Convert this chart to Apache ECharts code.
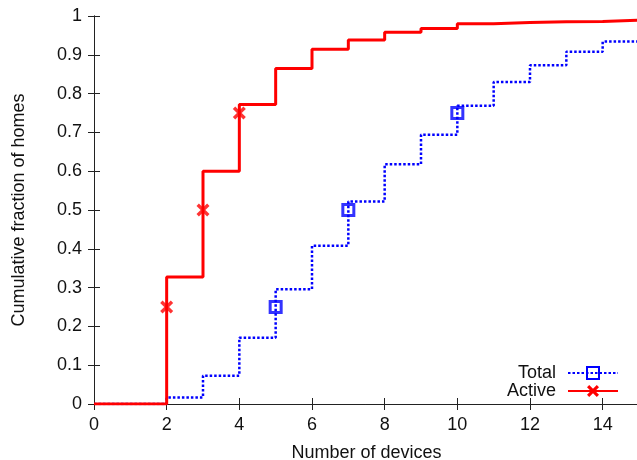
<!DOCTYPE html>
<html>
<head>
<meta charset="utf-8">
<script src="https://cdn.jsdelivr.net/npm/echarts@6/dist/echarts.min.js"></script>
<style>
    html, body { margin: 0; padding: 0; background: #fff; }
    #chart { width: 637px; height: 460px; }
</style>
</head>
<body>
<div id="chart"></div>
<script>
// number of devices (step positions)
var devices = [0, 1, 2, 3, 4, 5, 6, 7, 8, 9, 10, 11, 12, 13, 14, 15];
// cumulative fraction of homes
var totalCdf = [0, 0, 0.017, 0.073, 0.171, 0.296, 0.408, 0.522, 0.618, 0.694, 0.769, 0.830, 0.873, 0.908, 0.934, 0.934];
var activeCdf = [0, 0, 0.327, 0.600, 0.772, 0.865, 0.914, 0.938, 0.958, 0.968, 0.980, 0.983, 0.985, 0.986, 0.989, 0.989];
// quantile markers
var quantiles = [0.25, 0.5, 0.75];
var totalQx = [5, 7, 10];
var activeQx = [2, 3, 4];

var fontFamily = '"Liberation Sans", Arial, sans-serif';
// gnuplot style "x" point
var crossPath = 'path://M0,2.2L2.2,0L6,3.8L9.8,0L12,2.2L8.2,6L12,9.8L9.8,12L6,8.2L2.2,12L0,9.8L3.8,6Z';

function pairs(xs, ys) {
    var out = [];
    for (var i = 0; i < xs.length; i++) {
        out.push([xs[i], ys[i]]);
    }
    return out;
}

var axisLine = {show: true, lineStyle: {color: '#222', width: 1}};
var innerTick = {show: true, inside: true, length: 6, lineStyle: {color: '#222'}};

var chart = echarts.init(document.getElementById('chart'));
chart.setOption({
    animation: false,
    backgroundColor: '#fff',
    grid: {left: 94, right: -2, top: 16, bottom: 56, outerBoundsMode: 'none', containLabel: false},
    legend: {
        orient: 'vertical',
        right: 13,
        top: 359,
        align: 'right',
        itemWidth: 50,
        itemHeight: 15,
        itemGap: 0,
        data: ['Total', 'Active'],
        textStyle: {
            fontFamily: fontFamily,
            fontSize: 18,
            lineHeight: 18,
            color: '#111',
            width: 66,
            align: 'right',
            padding: [0, 7, 0, 0]
        }
    },
    xAxis: [
        {
            type: 'value',
            min: 0,
            max: 15,
            interval: 2,
            name: 'Number of devices',
            nameLocation: 'middle',
            nameGap: 40,
            nameTextStyle: {fontFamily: fontFamily, fontSize: 18, color: '#111'},
            axisLine: axisLine,
            axisTick: innerTick,
            splitLine: {show: false},
            axisLabel: {
                margin: 12,
                showMaxLabel: false,
                fontFamily: fontFamily,
                fontSize: 18,
                color: '#111'
            }
        },
        {
            type: 'value',
            position: 'top',
            min: 0,
            max: 15,
            interval: 2,
            axisLine: axisLine,
            axisTick: innerTick,
            splitLine: {show: false},
            axisLabel: {show: false}
        }
    ],
    yAxis: [
        {
            type: 'value',
            min: 0,
            max: 1,
            interval: 0.1,
            name: 'Cumulative fraction of homes',
            nameLocation: 'middle',
            nameGap: 66,
            nameTextStyle: {fontFamily: fontFamily, fontSize: 18, color: '#111'},
            axisLine: axisLine,
            axisTick: innerTick,
            splitLine: {show: false},
            axisLabel: {
                margin: 12,
                fontFamily: fontFamily,
                fontSize: 18,
                color: '#111'
            }
        },
        {
            type: 'value',
            position: 'right',
            min: 0,
            max: 1,
            interval: 0.1,
            axisLine: axisLine,
            axisTick: innerTick,
            splitLine: {show: false},
            axisLabel: {show: false}
        }
    ],
    series: [
        {
            name: 'Total',
            type: 'line',
            step: 'end',
            showSymbol: false,
            symbol: 'rect',
            symbolSize: 11,
            itemStyle: {color: 'rgba(0,0,0,0)', borderColor: '#0000ff', borderWidth: 3},
            lineStyle: {color: '#0000ff', width: 2.5, type: [2.5, 2]},
            data: pairs(devices, totalCdf)
        },
        {
            name: 'Active',
            type: 'line',
            step: 'end',
            showSymbol: false,
            symbol: crossPath,
            symbolSize: 13,
            itemStyle: {color: '#ff0000'},
            lineStyle: {color: '#ff0000', width: 3, type: 'solid'},
            data: pairs(devices, activeCdf)
        },
        {
            name: 'Total quantiles',
            type: 'scatter',
            symbol: 'rect',
            symbolSize: 11,
            itemStyle: {color: 'rgba(0,0,0,0)', borderColor: '#0000ff', borderWidth: 3},
            z: 3,
            data: pairs(totalQx, quantiles)
        },
        {
            name: 'Active quantiles',
            type: 'scatter',
            symbol: crossPath,
            symbolSize: 13,
            itemStyle: {color: '#ff0000'},
            z: 3,
            data: pairs(activeQx, quantiles)
        }
    ]
});
</script>
</body>
</html>
